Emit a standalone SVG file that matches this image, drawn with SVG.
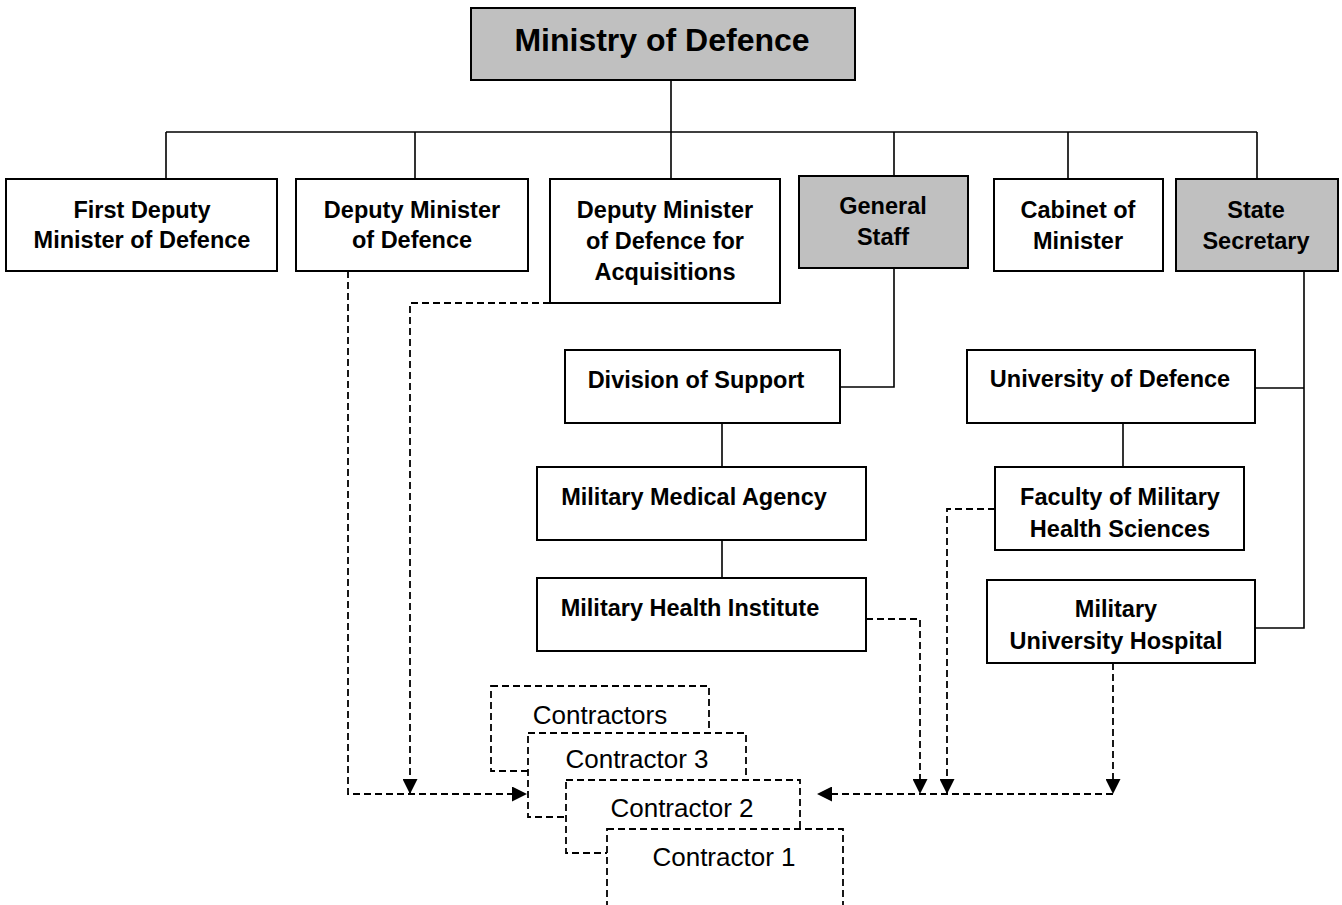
<svg xmlns="http://www.w3.org/2000/svg" width="1342" height="905" viewBox="0 0 1342 905">
<style>
.box{fill:#fff;stroke:#000;stroke-width:2}
.grey{fill:#c0c0c0;stroke:#000;stroke-width:2}
.dbox{fill:#fff;stroke:#000;stroke-width:1.8;stroke-dasharray:7 4}
.t{font-family:"Liberation Sans",Arial,sans-serif;font-weight:bold;font-size:23.5px;text-anchor:middle;fill:#000}
.big{font-size:32px}
.c{font-family:"Liberation Sans",Arial,sans-serif;font-size:26px;text-anchor:middle;fill:#000}
.ln{fill:none;stroke:#000;stroke-width:1.6}
.dl{fill:none;stroke:#000;stroke-width:1.8;stroke-dasharray:7 4}
</style>
<defs>
<marker id="ah" viewBox="0 0 10 10" refX="10" refY="5" markerWidth="15" markerHeight="15" markerUnits="userSpaceOnUse" orient="auto">
<path d="M0,0 L10,5 L0,10 Z" fill="#000"/>
</marker>
</defs>
<rect width="1342" height="905" fill="#fff"/>
<g id="connectors">
<path class="ln" d="M671,80 V132 M166,132 H1257 M166,132 V179 M415,132 V179 M671,132 V179 M894,132 V176 M1068,132 V179 M1257,132 V179"/>
<path class="ln" d="M894,268 V387 H840"/>
<path class="ln" d="M722,423 V467 M722,540 V578"/>
<path class="ln" d="M1304,271 V628 H1255 M1255,388 H1304"/>
<path class="ln" d="M1123,423 V467"/>
<path class="dl" d="M348,271 V794 H527" marker-end="url(#ah)"/>
<path class="dl" d="M550,303 H410 V794" marker-end="url(#ah)"/>
<path class="dl" d="M866,619 H920 V794" marker-end="url(#ah)"/>
<path class="dl" d="M995,509 H947 V794" marker-end="url(#ah)"/>
<path class="dl" d="M1113,663 V794" marker-end="url(#ah)"/>
<path class="dl" d="M1113,794 H817" marker-end="url(#ah)"/>
</g>
<g id="ministry"><rect class="grey" x="471" y="8" width="384" height="72"/><text class="t big" x="662" y="51">Ministry of Defence</text></g>
<g id="first-deputy"><rect class="box" x="6" y="179" width="271" height="92"/><text class="t" x="142" y="218">First Deputy</text><text class="t" x="142" y="248">Minister of Defence</text></g>
<g id="deputy-minister"><rect class="box" x="296" y="179" width="232" height="92"/><text class="t" x="412" y="218">Deputy Minister</text><text class="t" x="412" y="248">of Defence</text></g>
<g id="deputy-acquisitions"><rect class="box" x="550" y="179" width="230" height="124"/><text class="t" x="665" y="218">Deputy Minister</text><text class="t" x="665" y="249">of Defence for</text><text class="t" x="665" y="280">Acquisitions</text></g>
<g id="general-staff"><rect class="grey" x="799" y="176" width="169" height="92"/><text class="t" x="883" y="214">General</text><text class="t" x="883" y="245">Staff</text></g>
<g id="cabinet"><rect class="box" x="994" y="179" width="169" height="92"/><text class="t" x="1078" y="218">Cabinet of</text><text class="t" x="1078" y="249">Minister</text></g>
<g id="state-secretary"><rect class="grey" x="1176" y="179" width="162" height="92"/><text class="t" x="1256" y="218">State</text><text class="t" x="1256" y="249">Secretary</text></g>
<g id="division-support"><rect class="box" x="565" y="350" width="275" height="73"/><text class="t" x="696" y="388">Division of Support</text></g>
<g id="medical-agency"><rect class="box" x="537" y="467" width="329" height="73"/><text class="t" x="694" y="505">Military Medical Agency</text></g>
<g id="health-institute"><rect class="box" x="537" y="578" width="329" height="73"/><text class="t" x="690" y="616">Military Health Institute</text></g>
<g id="university"><rect class="box" x="967" y="350" width="288" height="73"/><text class="t" x="1110" y="387">University of Defence</text></g>
<g id="faculty"><rect class="box" x="995" y="467" width="249" height="83"/><text class="t" x="1120" y="505">Faculty of Military</text><text class="t" x="1120" y="537">Health Sciences</text></g>
<g id="hospital"><rect class="box" x="987" y="580" width="268" height="83"/><text class="t" x="1116" y="617">Military</text><text class="t" x="1116" y="649">University Hospital</text></g>
<g id="contractors"><rect class="dbox" x="491" y="686" width="218" height="85"/><text class="c" x="600" y="724">Contractors</text></g>
<g id="contractor-3"><rect class="dbox" x="528" y="733" width="218" height="84"/><text class="c" x="637" y="768">Contractor 3</text></g>
<g id="contractor-2"><rect class="dbox" x="566" y="780" width="234" height="73"/><text class="c" x="682" y="817">Contractor 2</text></g>
<g id="contractor-1"><rect class="dbox" x="607" y="829" width="236" height="95"/><text class="c" x="724" y="866">Contractor 1</text></g>
</svg>
